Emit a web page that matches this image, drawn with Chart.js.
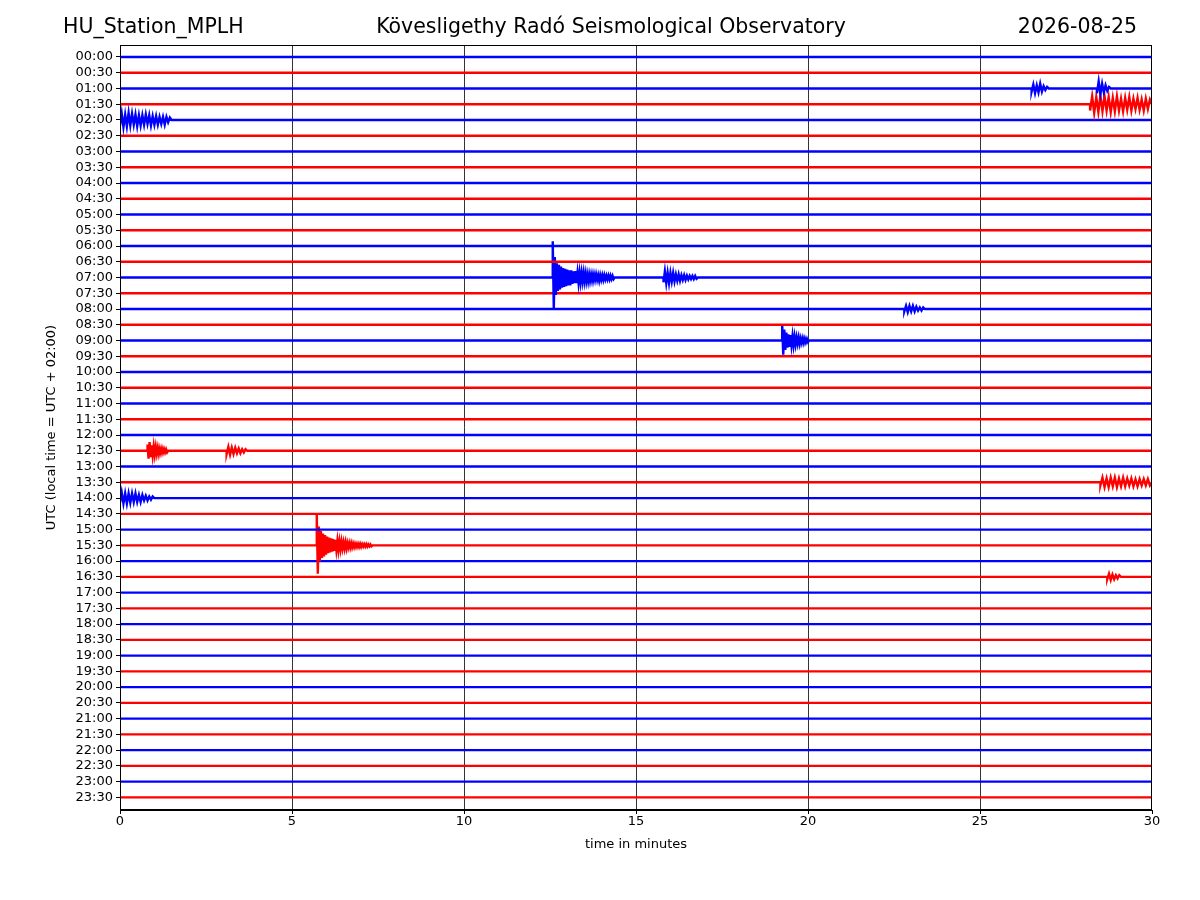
<!DOCTYPE html>
<html><head><meta charset="utf-8">
<script src="https://cdn.jsdelivr.net/npm/chart.js@4"></script>
<style>body{margin:0;background:#fff}canvas{display:block}</style>
</head><body>
<canvas id="c" width="1200" height="900"></canvas>
<script>
const stationName = "HU_Station_MPLH";
const titleText = "Kövesligethy Radó Seismological Observatory";
const dateText = "2026-08-25";
const traceLabels = [];
for (let h = 0; h < 24; h++) { const hh = String(h).padStart(2,'0'); traceLabels.push(hh+":00", hh+":30"); }
const xTicks = [0,5,10,15,20,25,30];
// events: trace index, start minute, step minute, deviations (in trace spacings)
const eventTrace = [2, 2, 3, 4, 14, 14, 16, 18, 25, 25, 27, 28, 31, 33];
const eventStart = [26.5, 28.4, 28.2, 0.0, 12.58, 15.8, 22.8, 19.25, 0.8, 3.1, 28.5, 0.0, 5.72, 28.7];
const eventStep  = [0.05, 0.05, 0.06, 0.05, 0.03, 0.04, 0.05, 0.03, 0.03, 0.05, 0.06, 0.05, 0.03, 0.05];
const eventDevs = [
 [0.2,-0.25,0.3,-0.2,0.25,-0.3,0.2,-0.15,0.1,-0.1],
 [0.3,-0.45,0.35,-0.3,0.25,-0.2,0.15,-0.1],
 [0.4,-0.5,0.55,-0.45,0.5,-0.55,0.45,-0.5,0.4,-0.45,0.5,-0.4,0.45,-0.5,0.4,-0.35,0.45,-0.4,0.35,-0.45,0.4,-0.35,0.3,-0.4,0.35,-0.3,0.4,-0.35,0.3,-0.3],
 [0.35,-0.4,0.45,-0.35,0.4,-0.45,0.35,-0.4,0.3,-0.35,0.4,-0.3,0.35,-0.3,0.3,-0.35,0.25,-0.3,0.35,-0.25,0.3,-0.25,0.3,-0.2,0.25,-0.2,0.3,-0.2,0.15,-0.15],
 [-2.3,2.0,-1.3,1.1,-0.9,0.85,-0.8,0.75,-0.7,0.65,-0.6,0.6,-0.55,0.55,-0.5,0.5,-0.45,0.5,-0.45,0.4,-0.4,0.35,-0.4,0.35,-0.3,0.35,-0.3,0.3,-0.3,0.25,-0.3,0.25,-0.25,0.25,-0.2,0.25,-0.2,0.2,-0.2,0.2,-0.2,0.15,-0.2,0.15,-0.15,0.2,-0.15,0.15,-0.15,0.15,-0.15,0.12,-0.12,0.12,-0.12,0.12,-0.12,0.1,-0.1,0.1],
 [0.3,-0.4,0.35,-0.3,0.35,-0.3,0.25,-0.3,0.25,-0.2,0.2,-0.2,0.2,-0.15,0.15,-0.15,0.15,-0.12,0.12,-0.1,0.1,-0.1,0.1,-0.1,0.08],
 [0.15,-0.2,0.2,-0.2,0.15,-0.2,0.15,-0.15,0.1,-0.1,0.1,-0.1],
 [-1.0,0.9,-0.7,0.6,-0.5,0.45,-0.4,0.4,-0.35,0.3,-0.3,0.3,-0.25,0.25,-0.2,0.2,-0.2,0.2,-0.15,0.15,-0.15,0.15,-0.12,0.12,-0.1,0.1],
 [-0.4,0.5,-0.55,0.4,-0.35,0.3,-0.3,0.25,-0.25,0.2,-0.2,0.2,-0.15,0.15,-0.15,0.12,-0.12,0.1,-0.1,0.1],
 [0.2,-0.25,0.25,-0.2,0.2,-0.2,0.15,-0.15,0.15,-0.1,0.1,-0.1],
 [0.2,-0.3,0.3,-0.25,0.3,-0.3,0.25,-0.3,0.3,-0.25,0.25,-0.3,0.25,-0.25,0.2,-0.25,0.25,-0.2,0.25,-0.2,0.2,-0.2,0.2,-0.2,0.2],
 [0.3,-0.35,0.35,-0.3,0.35,-0.3,0.3,-0.3,0.25,-0.3,0.25,-0.2,0.25,-0.2,0.15,-0.15,0.15,-0.1,0.1,-0.1],
 [-2.0,1.8,-1.2,1.0,-0.9,0.8,-0.75,0.7,-0.65,0.6,-0.55,0.5,-0.5,0.45,-0.45,0.4,-0.4,0.35,-0.35,0.3,-0.3,0.3,-0.25,0.25,-0.25,0.2,-0.2,0.2,-0.2,0.2,-0.15,0.15,-0.15,0.15,-0.15,0.12,-0.12,0.12,-0.1,0.1,-0.1,0.1,-0.1,0.1,-0.08,0.08,-0.08,0.08,-0.08,0.08,-0.06,0.06,-0.06,0.06],
 [0.15,-0.2,0.2,-0.15,0.15,-0.1,0.1,-0.1]
];
const colorA = "#0000ff", colorB = "#ff0000";

const datasets = traceLabels.map((lab, i) => {
  const pts = [{x:0, y:i}];
  eventTrace.forEach((t, k) => {
    if (t !== i) return;
    const s = eventStart[k], n = eventDevs[k].length;
    pts.push({x: Math.max(0, s - 0.001), y: i});
    eventDevs[k].forEach((d, j) => pts.push({x: s + j*eventStep[k], y: i + d}));
    pts.push({x: s + n*eventStep[k], y: i});
  });
  pts.push({x:30, y:i});
  pts.sort((a,b)=>a.x-b.x);
  return { data: pts, borderColor: i%2===0 ? colorA : colorB, borderWidth: 2.4,
    pointRadius: 0, tension: 0, fill: false };
});

const titlePlugin = { id:'titles', afterDraw(ch){
  const c = ch.ctx; c.save(); c.fillStyle='#000'; c.font='20.5px "DejaVu Sans"'; c.textBaseline='middle';
  c.textAlign='left'; c.fillText(stationName, 63, 28);
  c.textAlign='center'; c.fillText(titleText, 611, 28);
  c.textAlign='right'; c.fillText(dateText, 1137, 28);
  c.restore();
}};

Chart.defaults.font.family = '"DejaVu Sans"';
Chart.defaults.color = '#000';
new Chart(document.getElementById('c'), {
  type:'line',
  data:{ datasets },
  options:{
    responsive:false, animation:false, devicePixelRatio:1,
    layout:{ padding:{ top:45, right:48, left:44, bottom:0 } },
    plugins:{ legend:{display:false}, tooltip:{enabled:false} },
    scales:{
      x:{ type:'linear', min:0, max:30,
        afterFit(s){ s.height = 90; },
        afterBuildTicks(s){ s.ticks = xTicks.map(v=>({value:v})); },
        ticks:{ font:{size:13}, padding:4 },
        grid:{ color:'#000', lineWidth:(ctx)=> (ctx.tick && ctx.tick.value>0 && ctx.tick.value<30)?0.8:0, borderDash:[1,2], drawTicks:false },
        border:{ color:'#000', width:1 },
        title:{ display:false }
      },
      y:{ type:'linear', min:-0.76, max:47.8, reverse:true,
        afterFit(s){ s.width = 76; },
        afterBuildTicks(s){ s.ticks = traceLabels.map((l,i)=>({value:i})); },
        ticks:{ font:{size:13}, padding:3, autoSkip:false, callback:(v)=>traceLabels[v] },
        grid:{ drawOnChartArea:false, drawTicks:true, tickLength:4, color:'#000' },
        border:{ color:'#000', width:1 },
        title:{ display:true, text:'UTC (local time = UTC + 02:00)', font:{size:13}, padding:{top:0,bottom:0} }
      }
    }
  },
  plugins:[titlePlugin, { id:'box', afterDraw(ch){ const a=ch.chartArea,c=ch.ctx; c.save(); c.strokeStyle='#000'; c.lineWidth=1; c.strokeRect(a.left+0.5,a.top+0.5,a.right-a.left-1,a.bottom-a.top-1);
    c.fillStyle='#000'; c.font='13px "DejaVu Sans"'; c.textAlign='center'; c.textBaseline='middle'; c.fillText('time in minutes',(a.left+a.right)/2,845);
    c.strokeStyle='#000'; c.lineWidth=1; ch.scales.x.ticks.forEach(t=>{const px=Math.round(ch.scales.x.getPixelForValue(t.value))+0.5; c.beginPath(); c.moveTo(px,a.bottom); c.lineTo(px,a.bottom+4); c.stroke();});
    c.restore(); } }]
});
</script>
</body></html>
